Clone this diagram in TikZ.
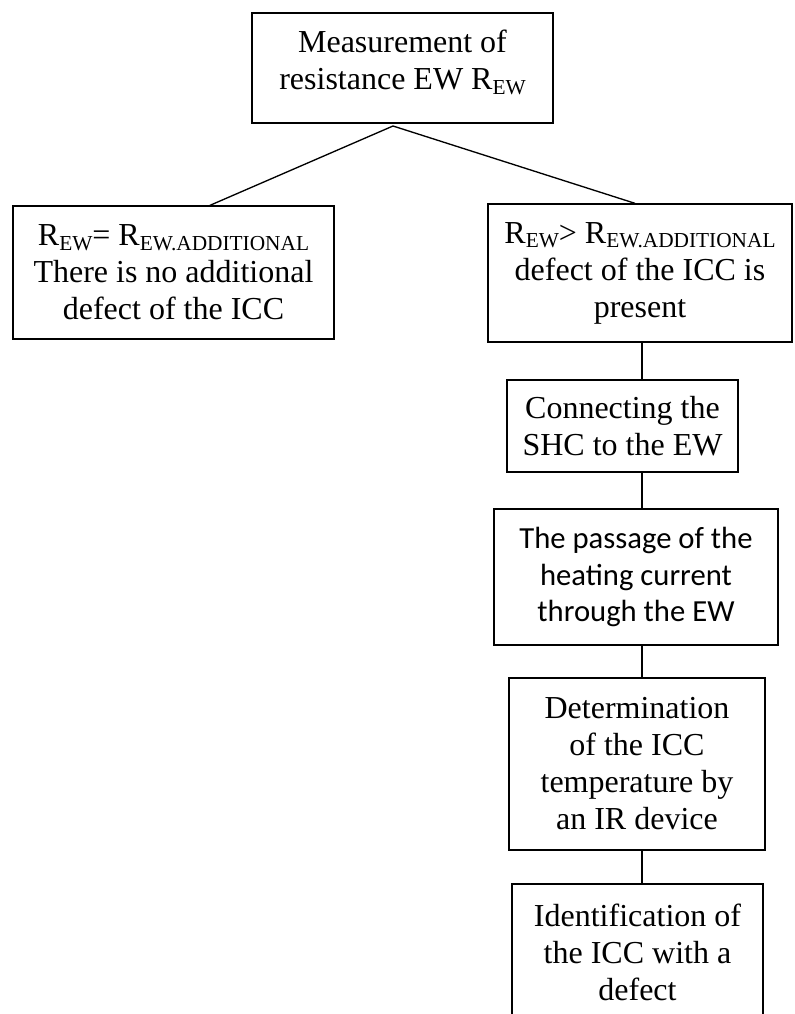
\documentclass[tikz,border=0pt]{standalone}
\usepackage{fontspec}
\setmainfont{Liberation Serif}
\newfontfamily\calibrifont{Carlito}
\usetikzlibrary{calc}
\newcommand{\subtxt}[1]{\raisebox{-0.3ex}{\fontsize{16}{16}\selectfont #1}}
\tikzset{every picture/.style={line width=1pt}}
\tikzset{stepbox/.style={draw, align=center, inner sep=0pt, font=\fontsize{24}{27.75}\selectfont}}

\begin{document}
\begin{tikzpicture}[x=0.75pt,y=0.75pt,yscale=-1,xscale=1]
	%set diagram to the size of the page
	\useasboundingbox (0,0) rectangle (794,1014);

	%Shape: Rectangle [id:meas] 
	\draw (402.5,68) node [stepbox, minimum width=225.75pt, minimum height=82.5pt, text depth=12pt] (meas) {Measurement of\\resistance EW R\subtxt{EW}};
	%Shape: Rectangle [id:noeq] 
	\draw (173.5,272.5) node [stepbox, minimum width=240.75pt, minimum height=99.75pt] (noeq) {R\subtxt{EW}= R\subtxt{EW.ADDITIONAL}\\There is no additional\\defect of the ICC};
	%Shape: Rectangle [id:defect] 
	\draw (640,273) node [stepbox, minimum width=228pt, minimum height=103.5pt] (defect) {R\subtxt{EW}> R\subtxt{EW.ADDITIONAL}\\defect of the ICC is\\present};
	%Shape: Rectangle [id:connect] 
	\draw (622.5,426) node [stepbox, minimum width=173.25pt, minimum height=69pt] (connect) {Connecting the\\SHC to the EW};
	%Shape: Rectangle [id:passage] 
	\draw (636,577) node [stepbox, minimum width=213pt, minimum height=102pt, font=\calibrifont\fontsize{23}{27.5}\selectfont] (passage) {The passage of the\\heating current\\through the EW};
	%Shape: Rectangle [id:determ] 
	\draw (637,764) node [stepbox, minimum width=192pt, minimum height=129pt] (determ) {Determination\\of the ICC\\temperature by\\an IR device};
	%Shape: Rectangle [id:ident] 
	\draw (637.5,952) node [stepbox, minimum width=188.25pt, minimum height=102pt] (ident) {Identification of\\the ICC with a\\defect};

	\coordinate (fork) at (393,126);
	\coordinate (spine) at (642,0);

	%Straight Lines [id:branches] 
	\draw (fork) -- ($(noeq.north)+(36.5,0)$);
	\draw (fork) -- ($(defect.north)+(-5,0)$);
	%Straight Lines [id:chain] 
	\draw (defect.south -| spine) -- (connect.north -| spine);
	\draw (connect.south -| spine) -- (passage.north -| spine);
	\draw (passage.south -| spine) -- (determ.north -| spine);
	\draw (determ.south -| spine) -- (ident.north -| spine);

\end{tikzpicture}
\end{document}
